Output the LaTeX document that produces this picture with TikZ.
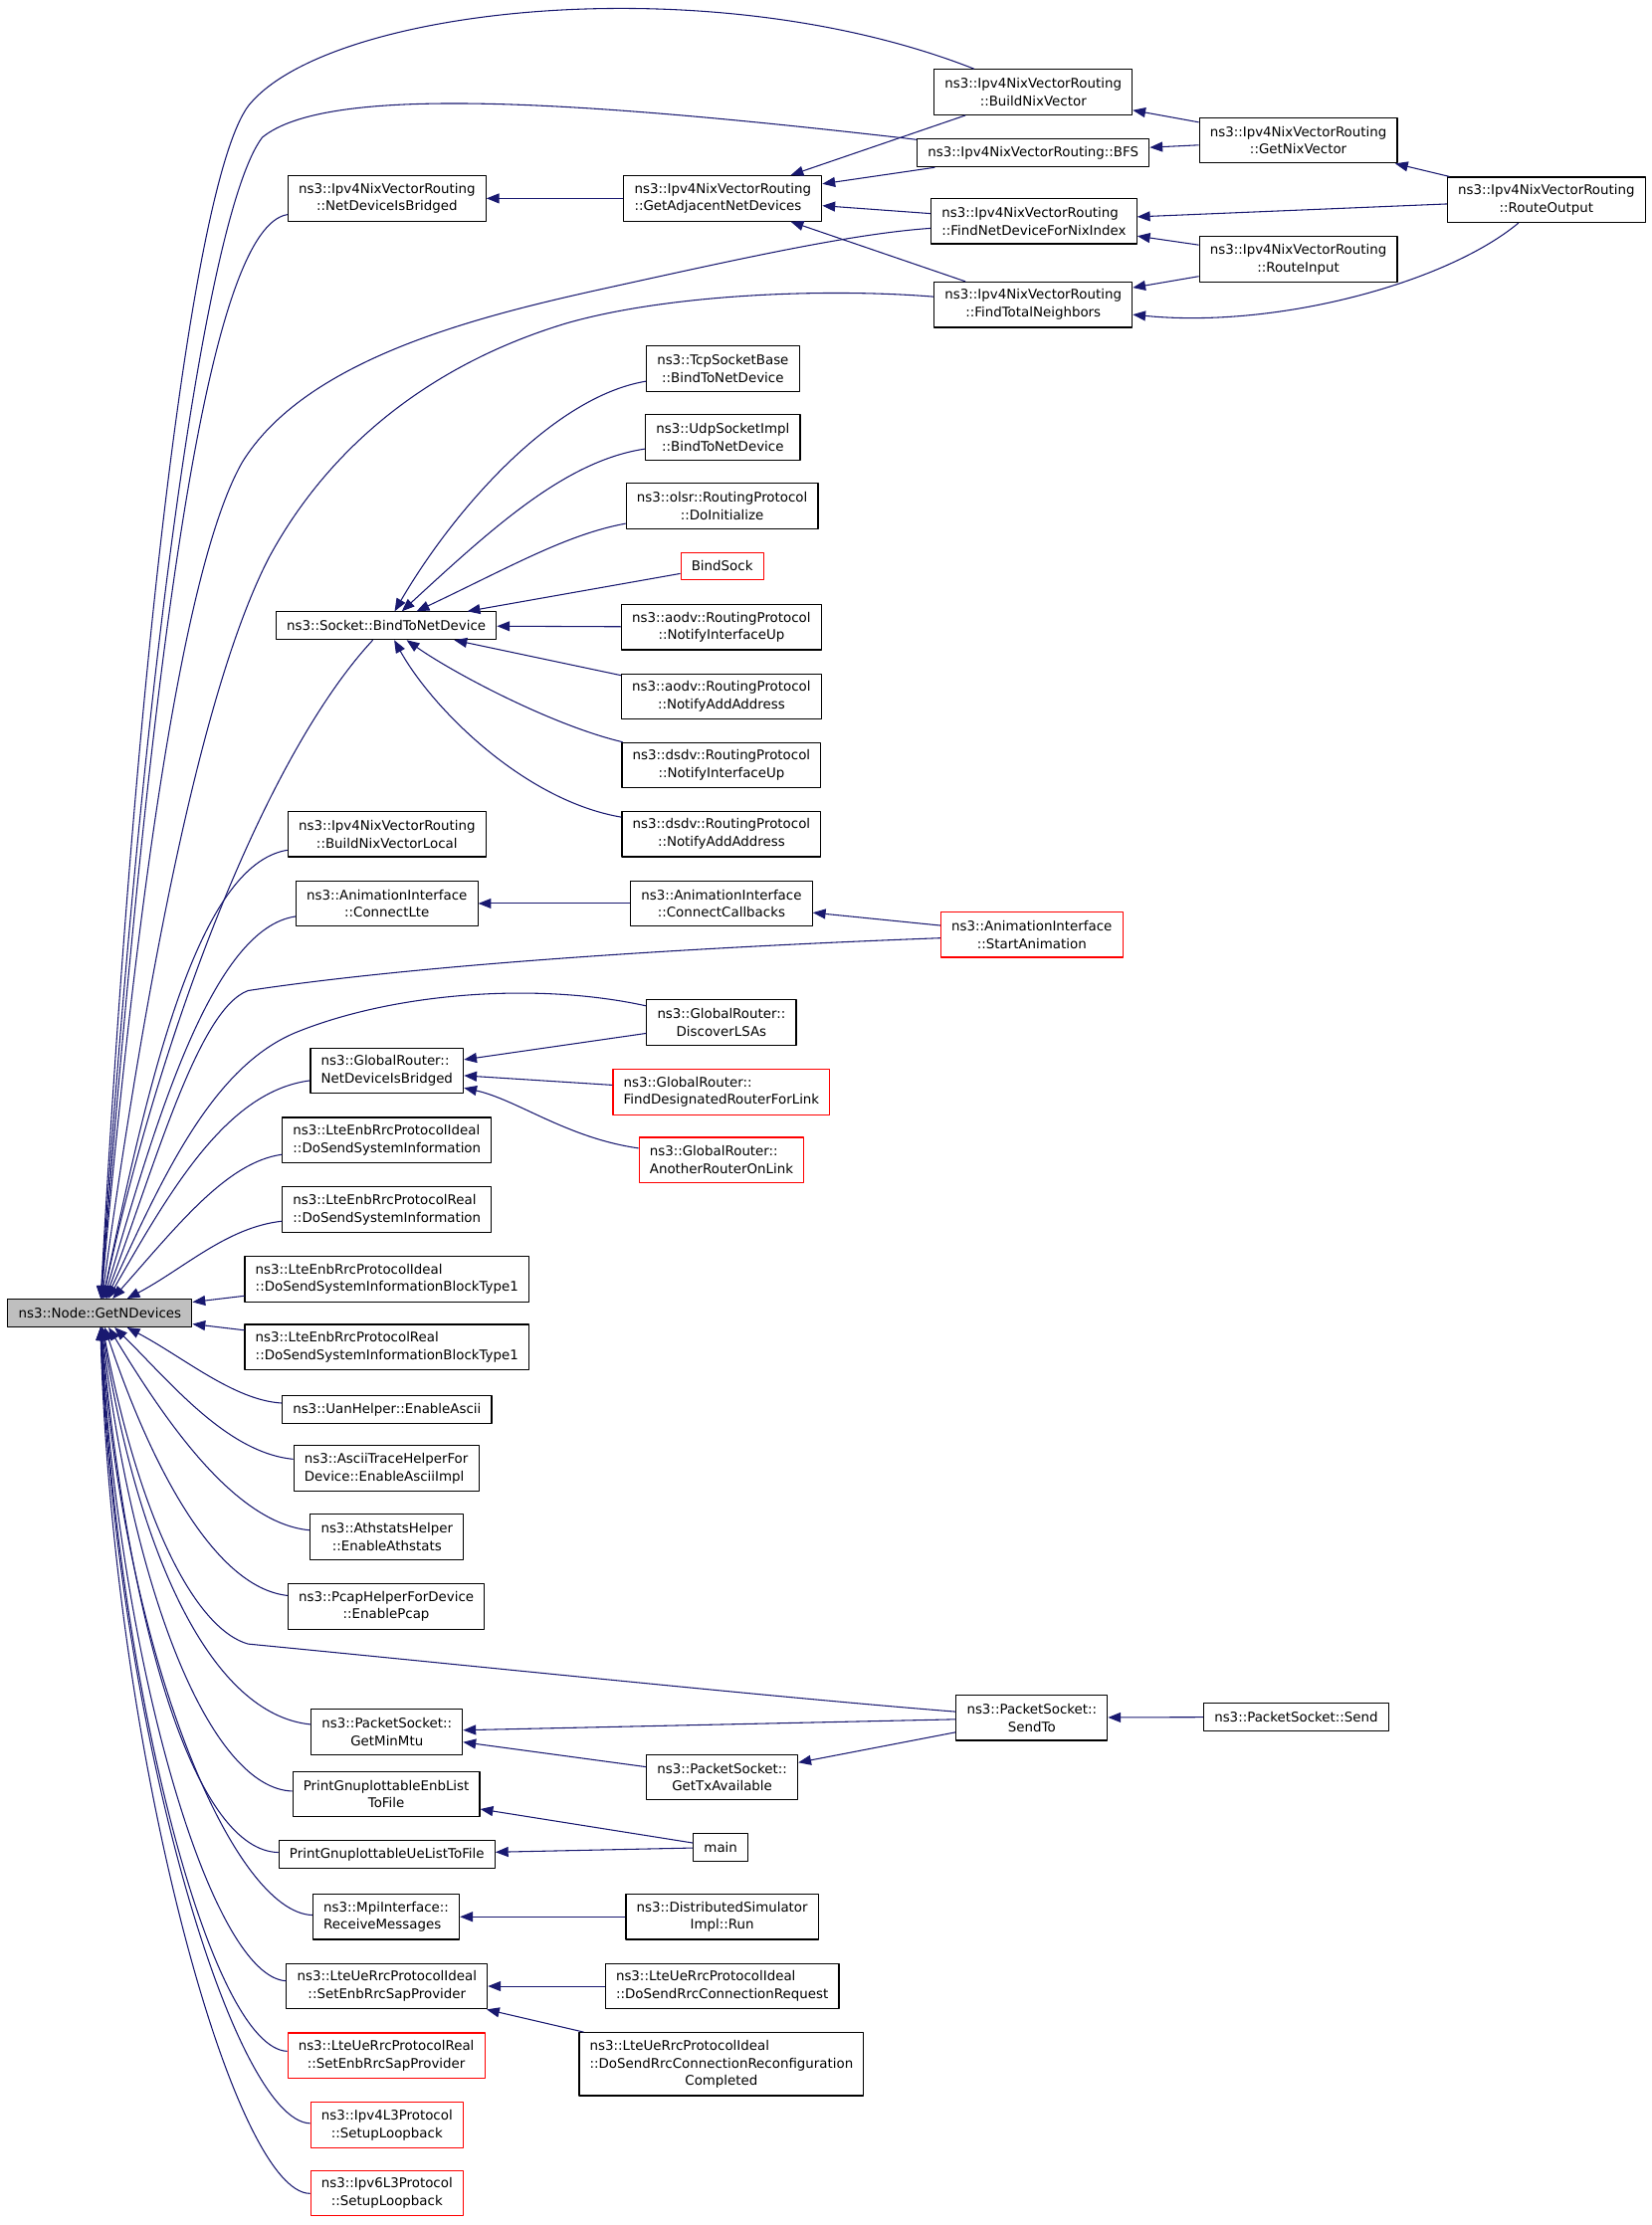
\documentclass[tikz,border=0pt]{standalone}
\usepackage{fontspec}
\setmainfont{DejaVu Sans}
\usetikzlibrary{arrows.meta}
\definecolor{edgeblue}{HTML}{191970}
\definecolor{undocred}{HTML}{FF0000}
\definecolor{rootgray}{HTML}{BFBFBF}
\newcommand{\fnfont}{\fontsize{9.4}{12.5}\selectfont}
\tikzset{
  fn/.style={draw=black, line width=0.8pt, inner xsep=7.5pt, inner ysep=0pt, align=center},
  lft/.style={align=left},
  l1/.style={minimum height=19.5pt},
  l2/.style={minimum height=32pt},
  l3/.style={minimum height=44.5pt},
  undoc/.style={draw=undocred},
  cur/.style={fill=rootgray},
  callby/.style={<-, draw=edgeblue, line width=0.75pt}
}
\begin{document}
\begin{tikzpicture}[x=1pt, y=-1pt, >={Triangle[length=9pt,width=7pt]}, font=\fnfont, line join=round]
	\useasboundingbox (0,0) rectangle (1165,1570);
	\node[fn,l1,cur] (root) at (70.5,926.5) {ns3::Node::GetNDevices};
	% callers of GetNDevices
	\node[fn,l2] (nvbridged) at (273,140) {ns3::Ipv4NixVectorRouting\\::NetDeviceIsBridged};
	\node[fn,l1] (sockbind) at (272.5,441.5) {ns3::Socket::BindToNetDevice};
	\node[fn,l2] (nvlocal) at (273,588.5) {ns3::Ipv4NixVectorRouting\\::BuildNixVectorLocal};
	\node[fn,l2] (connlte) at (273,637.5) {ns3::AnimationInterface\\::ConnectLte};
	\node[fn,l2,lft] (grbridged) at (273,755.5) {ns3::GlobalRouter::\\NetDeviceIsBridged};
	\node[fn,l2,lft] (enbsiideal) at (273,804.5) {ns3::LteEnbRrcProtocolIdeal\\::DoSendSystemInformation};
	\node[fn,l2,lft] (enbsireal) at (273,853.5) {ns3::LteEnbRrcProtocolReal\\::DoSendSystemInformation};
	\node[fn,l2,lft] (enbsibideal) at (273,902.5) {ns3::LteEnbRrcProtocolIdeal\\::DoSendSystemInformationBlockType1};
	\node[fn,l2,lft] (enbsibreal) at (273,950.5) {ns3::LteEnbRrcProtocolReal\\::DoSendSystemInformationBlockType1};
	\node[fn,l1] (uanascii) at (273,994.5) {ns3::UanHelper::EnableAscii};
	\node[fn,l2,lft] (asciiimpl) at (272.5,1036) {ns3::AsciiTraceHelperFor\\Device::EnableAsciiImpl};
	\node[fn,l2] (athstats) at (273,1084.5) {ns3::AthstatsHelper\\::EnableAthstats};
	\node[fn,l2] (pcap) at (272.5,1133.5) {ns3::PcapHelperForDevice\\::EnablePcap};
	\node[fn,l2] (minmtu) at (273,1222) {ns3::PacketSocket::\\GetMinMtu};
	\node[fn,l2] (enblist) at (272.5,1266) {PrintGnuplottableEnbList\\ToFile};
	\node[fn,l1] (uelist) at (273,1308.5) {PrintGnuplottableUeListToFile};
	\node[fn,l2,lft] (recvmsg) at (272.5,1352.5) {ns3::MpiInterface::\\ReceiveMessages};
	\node[fn,l2] (uesapideal) at (273,1401.5) {ns3::LteUeRrcProtocolIdeal\\::SetEnbRrcSapProvider};
	\node[fn,l2,undoc] (uesapreal) at (272.5,1450.5) {ns3::LteUeRrcProtocolReal\\::SetEnbRrcSapProvider};
	\node[fn,l2,undoc] (loopfour) at (273,1499.5) {ns3::Ipv4L3Protocol\\::SetupLoopback};
	\node[fn,l2,undoc] (loopsix) at (273,1547.5) {ns3::Ipv6L3Protocol\\::SetupLoopback};
	% second column
	\node[fn,l2,lft] (adjdev) at (510,140) {ns3::Ipv4NixVectorRouting\\::GetAdjacentNetDevices};
	\node[fn,l2] (tcpbind) at (510,260) {ns3::TcpSocketBase\\::BindToNetDevice};
	\node[fn,l2] (udpbind) at (510,308.5) {ns3::UdpSocketImpl\\::BindToNetDevice};
	\node[fn,l2] (olsrinit) at (509.5,357) {ns3::olsr::RoutingProtocol\\::DoInitialize};
	\node[fn,l1,undoc] (bindsock) at (509.5,399.5) {BindSock};
	\node[fn,l2] (aodvup) at (509,442.5) {ns3::aodv::RoutingProtocol\\::NotifyInterfaceUp};
	\node[fn,l2] (aodvaddr) at (509,491.5) {ns3::aodv::RoutingProtocol\\::NotifyAddAddress};
	\node[fn,l2] (dsdvup) at (509,540) {ns3::dsdv::RoutingProtocol\\::NotifyInterfaceUp};
	\node[fn,l2] (dsdvaddr) at (509,588.5) {ns3::dsdv::RoutingProtocol\\::NotifyAddAddress};
	\node[fn,l2] (conncb) at (509,637.5) {ns3::AnimationInterface\\::ConnectCallbacks};
	\node[fn,l2] (discover) at (509,721.5) {ns3::GlobalRouter::\\DiscoverLSAs};
	\node[fn,l2,lft,undoc] (designated) at (509,770.5) {ns3::GlobalRouter::\\FindDesignatedRouterForLink};
	\node[fn,l2,lft,undoc] (another) at (509,818.5) {ns3::GlobalRouter::\\AnotherRouterOnLink};
	\node[fn,l2] (txavail) at (509.5,1254) {ns3::PacketSocket::\\GetTxAvailable};
	\node[fn,l1] (mainfn) at (508.5,1303.5) {main};
	\node[fn,l2] (distrun) at (509.5,1352.5) {ns3::DistributedSimulator\\Impl::Run};
	\node[fn,l2,lft] (rrcreq) at (509.5,1401.5) {ns3::LteUeRrcProtocolIdeal\\::DoSendRrcConnectionRequest};
	\node[fn,l3,lft] (rrcreconf) at (509,1456.5) {ns3::LteUeRrcProtocolIdeal\\::DoSendRrcConnectionReconfiguration\\\hspace*{\fill}Completed\hspace*{\fill}};
	% third to fifth column
	\node[fn,l2] (buildnv) at (729,65) {ns3::Ipv4NixVectorRouting\\::BuildNixVector};
	\node[fn,l1] (bfs) at (729,108) {ns3::Ipv4NixVectorRouting::BFS};
	\node[fn,l2,lft] (findnd) at (729.5,156) {ns3::Ipv4NixVectorRouting\\::FindNetDeviceForNixIndex};
	\node[fn,l2] (findtn) at (729,215) {ns3::Ipv4NixVectorRouting\\::FindTotalNeighbors};
	\node[fn,l2,undoc] (startanim) at (728,659.5) {ns3::AnimationInterface\\::StartAnimation};
	\node[fn,l2] (sendto) at (728,1212) {ns3::PacketSocket::\\SendTo};
	\node[fn,l2] (getnv) at (916,99) {ns3::Ipv4NixVectorRouting\\::GetNixVector};
	\node[fn,l2] (routein) at (916,183) {ns3::Ipv4NixVectorRouting\\::RouteInput};
	\node[fn,l1] (pssend) at (914.5,1211.5) {ns3::PacketSocket::Send};
	\node[fn,l2] (routeout) at (1091,141) {ns3::Ipv4NixVectorRouting\\::RouteOutput};
	% edges into GetNDevices, upper side
	\draw[callby] (root) .. controls (95,480) and (135,130) .. (175,75) .. controls (230,5) and (500,-25) .. (buildnv);
	\draw[callby] (root) .. controls (100,480) and (145,150) .. (185,97) .. controls (230,60) and (400,70) .. (bfs);
	\draw[callby] (root) .. controls (110,420) and (150,160) .. (nvbridged);
	\draw[callby] (root) .. controls (105,540) and (140,380) .. (171,326) .. controls (215,255) and (330,225) .. (420,205) .. controls (520,183) and (600,165) .. (findnd);
	\draw[callby] (root) .. controls (110,640) and (150,470) .. (190,393) .. controls (235,310) and (310,255) .. (400,228) .. controls (470,208) and (580,203) .. (findtn);
	\draw[callby] (root) .. controls (115,720) and (190,530) .. (sockbind);
	\draw[callby] (root) .. controls (105,760) and (140,610) .. (nvlocal);
	\draw[callby] (root) .. controls (110,790) and (150,655) .. (connlte);
	\draw[callby] (root) .. controls (110,820) and (140,712) .. (175,699) .. controls (300,680) and (500,668) .. (startanim);
	\draw[callby] (root) .. controls (115,830) and (150,752) .. (210,728) .. controls (280,700) and (380,693) .. (discover);
	\draw[callby] (root) .. controls (120,840) and (160,770) .. (grbridged);
	\draw[callby] (root) .. controls (125,865) and (160,820) .. (enbsiideal);
	\draw[callby] (root) .. controls (130,895) and (160,866) .. (enbsireal);
	\draw[callby] (root) -- (enbsibideal);
	\draw[callby] (root) -- (enbsibreal);
	% edges into GetNDevices, lower side
	\draw[callby] (root) .. controls (130,958) and (165,988) .. (uanascii);
	\draw[callby] (root) .. controls (120,975) and (160,1025) .. (asciiimpl);
	\draw[callby] (root) .. controls (115,1000) and (165,1075) .. (athstats);
	\draw[callby] (root) .. controls (105,1030) and (150,1120) .. (pcap);
	\draw[callby] (root) .. controls (100,1080) and (140,1150) .. (175,1160) .. controls (340,1176) and (550,1198) .. (sendto);
	\draw[callby] (root) .. controls (98,1100) and (150,1210) .. (minmtu);
	\draw[callby] (root) .. controls (95,1130) and (150,1262) .. (enblist);
	\draw[callby] (root) .. controls (92,1160) and (140,1306) .. (uelist);
	\draw[callby] (root) .. controls (88,1170) and (165,1350) .. (recvmsg);
	\draw[callby] (root) .. controls (85,1180) and (150,1395) .. (uesapideal);
	\draw[callby] (root) .. controls (84,1200) and (150,1445) .. (uesapreal);
	\draw[callby] (root) .. controls (82,1220) and (165,1497) .. (loopfour);
	\draw[callby] (root) .. controls (80,1240) and (165,1548) .. (loopsix);
	% nix-vector routing
	\draw[callby] (nvbridged) -- (adjdev);
	\draw[callby] (adjdev) -- (buildnv);
	\draw[callby] (adjdev) -- (bfs);
	\draw[callby] (adjdev) -- (findnd);
	\draw[callby] (adjdev) -- (findtn);
	\draw[callby] (buildnv) -- (getnv);
	\draw[callby] (bfs) -- (getnv);
	\draw[callby] (getnv) -- (routeout);
	\draw[callby] (findnd) -- (routeout);
	\draw[callby] (findnd) -- (routein);
	\draw[callby] (findtn) -- (routein);
	\draw[callby] (findtn) .. controls (900,232) and (1020,200) .. (routeout);
	% sockets
	\draw[callby] (sockbind) .. controls (320,360) and (390,280) .. (tcpbind);
	\draw[callby] (sockbind) .. controls (350,370) and (400,325) .. (udpbind);
	\draw[callby] (sockbind) .. controls (360,400) and (400,377) .. (olsrinit);
	\draw[callby] (sockbind) -- (bindsock);
	\draw[callby] (sockbind) -- (aodvup);
	\draw[callby] (sockbind) -- (aodvaddr);
	\draw[callby] (sockbind) .. controls (320,475) and (390,512) .. (dsdvup);
	\draw[callby] (sockbind) .. controls (305,500) and (370,565) .. (dsdvaddr);
	% animation, global router
	\draw[callby] (connlte) -- (conncb);
	\draw[callby] (conncb) -- (startanim);
	\draw[callby] (grbridged) -- (discover);
	\draw[callby] (grbridged) -- (designated);
	\draw[callby] (grbridged) .. controls (365,776) and (400,803) .. (another);
	% packet socket and the rest
	\draw[callby] (minmtu) -- (sendto);
	\draw[callby] (minmtu) -- (txavail);
	\draw[callby] (txavail) -- (sendto);
	\draw[callby] (sendto) -- (pssend);
	\draw[callby] (enblist) -- (mainfn);
	\draw[callby] (uelist) -- (mainfn);
	\draw[callby] (recvmsg) -- (distrun);
	\draw[callby] (uesapideal) -- (rrcreq);
	\draw[callby] (uesapideal) -- (rrcreconf);
\end{tikzpicture}
\end{document}
